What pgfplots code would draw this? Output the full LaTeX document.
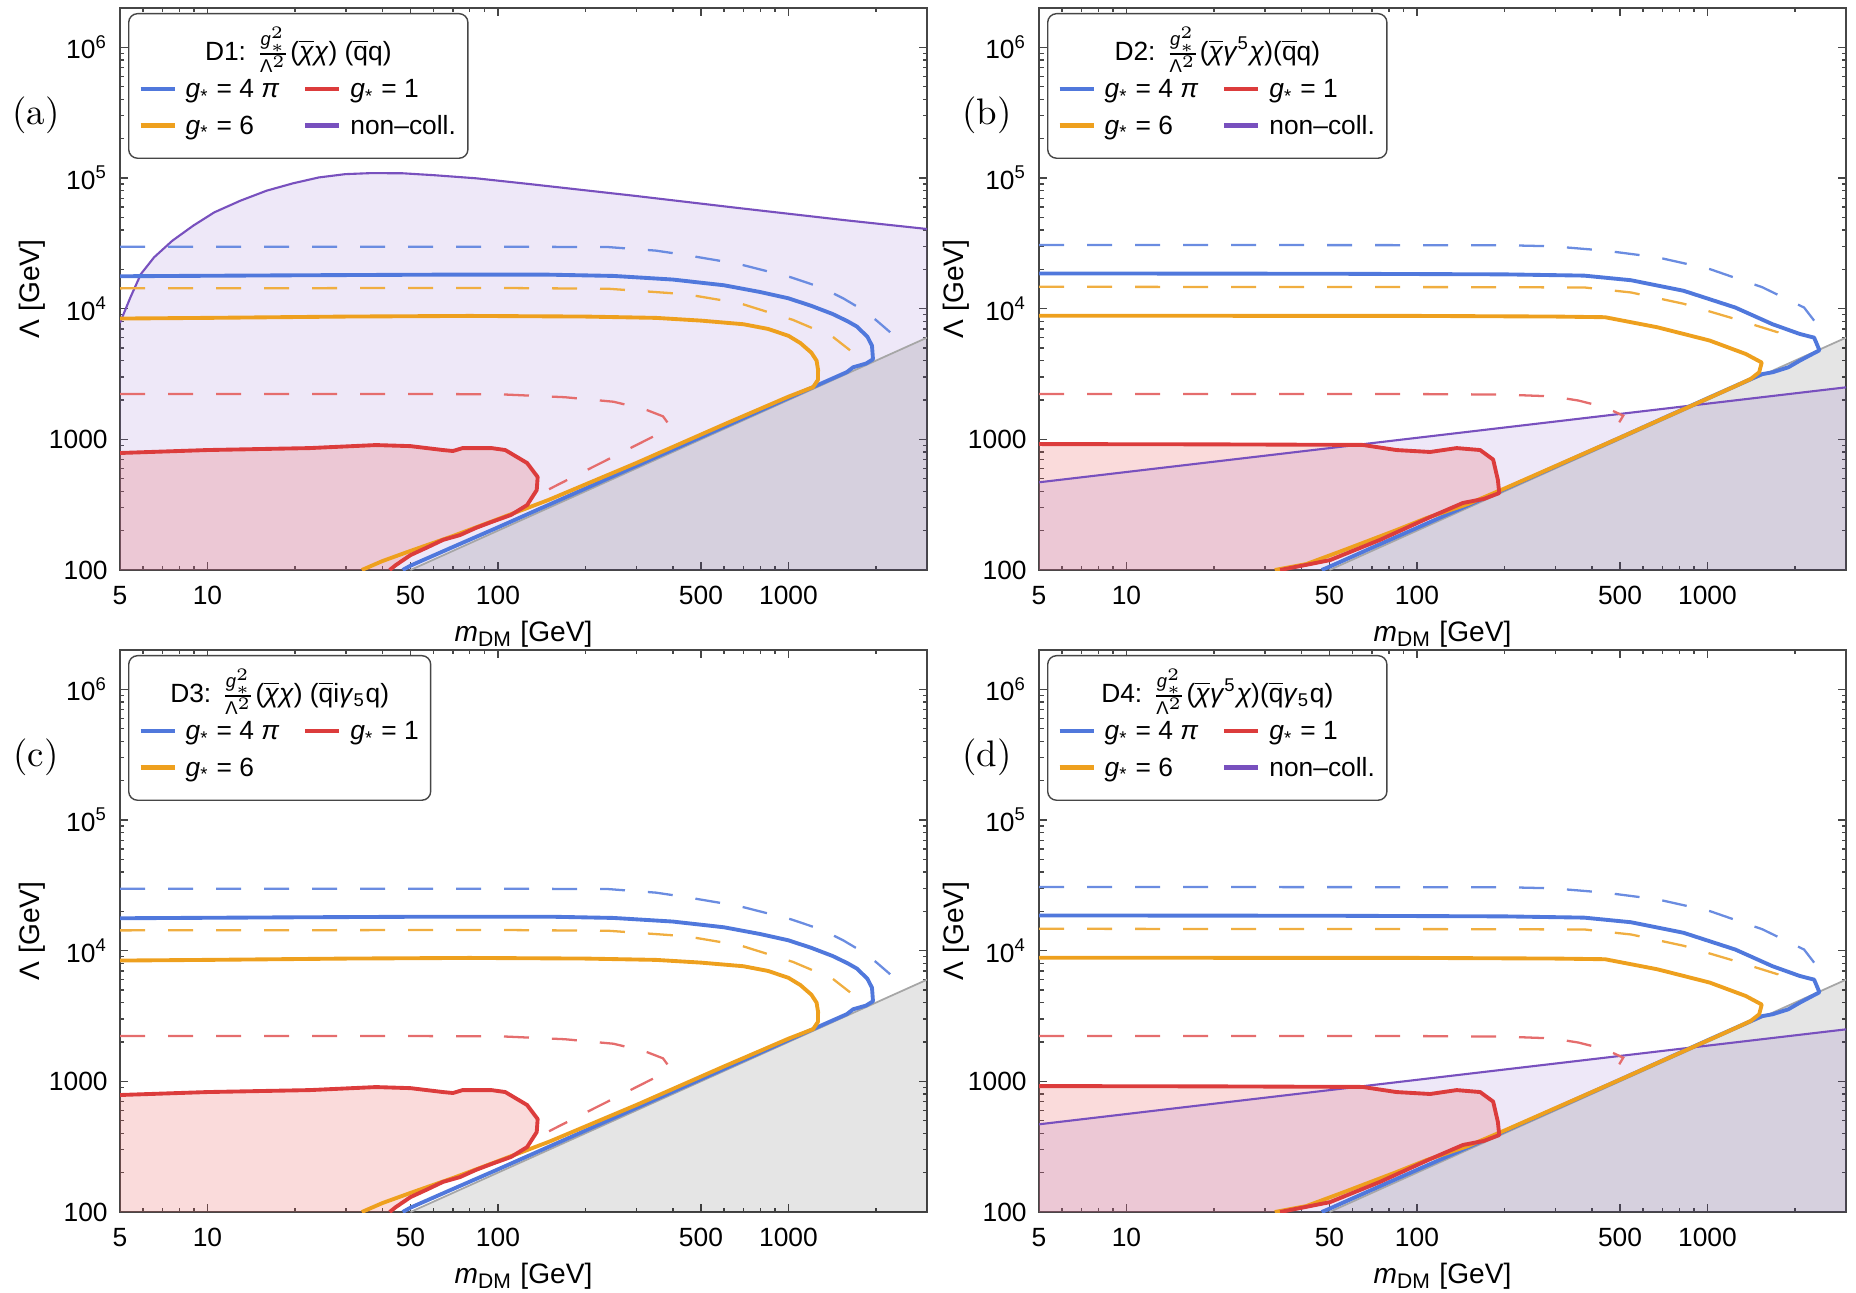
\documentclass[border=0pt]{standalone}
\usepackage{fontspec}
\usepackage{amsmath}
\usepackage{pgfplots}
\usepackage{pgfplotstable}
\pgfplotsset{compat=1.18}
\newfontfamily\lib{Liberation Sans}

\definecolor{blueC}{RGB}{80,120,220}
\definecolor{orangeC}{RGB}{238,160,30}
\definecolor{redC}{RGB}{220,60,60}
\definecolor{purpleC}{RGB}{120,80,190}
\definecolor{purpleF}{RGB}{150,110,210}
\definecolor{redF}{RGB}{230,90,90}

\newcommand{\gs}{\textit{g}\textsubscript{*}}
\newcommand{\frc}{$\frac{\text{\textit{g}}_{*}^{2}}{\text{Λ}^{2}}$}
\newcommand{\chib}{$\overline{\text{\textit{χ}}}$}
\newcommand{\qb}{$\overline{\text{q}}$}
\newcommand{\samp}[1]{\textcolor{#1}{\rule[0.25em]{3.4mm}{0.45mm}}}

% ---------------- data ----------------
\pgfplotstableread{
x y
3000 100
50 100
3000 6000
}\greyT

\pgfplotstableread{
x y
3000 100
5 100
5 7800
5.43 12200
5.9 18400
6.55 24700
7.57 33100
8.94 43200
10.56 54600
13.0 67100
16.0 80000
19.7 91000
24.2 101000
29.8 107000
36.7 109000
47.1 108600
60.4 105000
84.3 99400
127.6 90000
293 73200
673 58900
1543 47700
3000 40700
}\purpA

\pgfplotstableread{
x y
3000 100
5 100
5 469
3000 2500
}\purpB

\pgfplotstableread{
x y
5 17700
20 18000
60 18200
150 18200
250 17800
400 16700
600 15100
800 13400
1000 12000
1200 10500
1420 9100
1600 8000
1720 7300
1870 6100
1940 5200
1955 4100
1850 3800
1670 3560
1590 3270
1000 2070
500 1040
200 420
100 212
70 150
50 108
47 100
}\blueA

\pgfplotstableread{
x y
5 8400
10 8500
30 8700
80 8800
200 8700
350 8500
500 8100
700 7600
850 7000
1000 6200
1100 5450
1200 4600
1250 4000
1265 3400
1264 2850
1216 2510
1000 2120
600 1300
300 660
150 345
100 245
70 182
50 140
40 117
34 100
}\orangeA

\pgfplotstableread{
x y
5 100
5 786
10 828
22.5 857
38 904
50 887
64.7 828
70 814
75.6 857
95 857
106 828
126 659
137 515
136 409
126 314
111 264
95 233
84 210
74 185
64.7 170
57.5 150
50 130
44.5 109
42.4 100
}\redA

\pgfplotstableread{
x y
5 2220
50 2220
100 2215
170 2100
250 1940
320 1700
370 1500
385 1330
380 1180
160 447
150 415
}\redDA

\pgfplotstableread{
x y
5 29800
100 29800
240 29600
350 27800
444 25700
673 22000
1018 17400
1300 14500
1543 12000
1800 9800
2000 8200
2240 6600
}\blueDA

\pgfplotstableread{
x y
5 14300
100 14400
240 14200
444 12900
680 11000
1037 8200
1420 6100
1630 4800
}\orangeDA

\pgfplotstableread{
x y
5 18600
50 18500
200 18300
376 17900
546 16500
828 13700
1247 10200
1676 7600
2080 6400
2330 6000
2430 4800
2242 4370
2080 4000
1900 3560
1676 3260
1538 3150
1000 2060
500 1030
200 415
100 210
70 148
50 106
47 100
}\blueB

\pgfplotstableread{
x y
5 8830
100 8800
300 8700
444 8600
673 7200
1018 5700
1355 4500
1538 3870
1507 3260
1410 2900
1250 2560
1000 2050
500 1030
200 420
150 320
108 250
84 200
55.6 141
41.6 111
32.4 100
}\orangeB

\pgfplotstableread{
x y
5 100
5 920
20 915
65 906
85 828
111 800
137 857
165 828
183 700
190 488
192 388
170 350
144 326
111 254
74.6 170
50.2 119
33.8 100
}\redB

\pgfplotstableread{
x y
5 2220
100 2220
200 2200
293 2130
360 1980
444 1760
513 1517
497 1350
}\redDB

\pgfplotstableread{
x y
5 30700
200 30600
293 30000
444 27800
673 24700
1018 20100
1543 14600
2151 10200
2330 8100
}\blueDB

\pgfplotstableread{
x y
5 14700
200 14600
380 14500
546 13300
828 10900
1247 8330
1748 6590
1830 5600
}\orangeDB

\tikzset{
 fillP/.style={draw=none, fill=purpleF, fill opacity=0.16},
 fillG/.style={draw=none, fill=black, fill opacity=0.10},
 fillR/.style={draw=none, fill=redF, fill opacity=0.22},
 lineS/.style={line width=1.1pt, line join=round},
 dashS/.style={line width=0.65pt, dash pattern=on 2.5mm off 2.3mm},
 legbox/.style={draw=gray!55!black, rounded corners=2.5pt, fill=white, anchor=north west,
   inner xsep=1.2mm, inner ysep=1.3mm, font=\lib\fontsize{7.5}{9}\selectfont},
 plab/.style={font=\fontsize{10.5}{12}\selectfont, anchor=center},
}

\begin{document}
\begin{tikzpicture}
\useasboundingbox (0,0) rectangle (185.6mm,129.2mm);

% ================= (a) =================
\begin{axis}[name=A, at={(12mm,72.2mm)}, anchor=south west,
  xmode=log, ymode=log, scale only axis, width=80.7mm, height=56.2mm,
  xmin=5, xmax=3000, ymin=100, ymax=2e6,
  xtick={5,10,50,100,500,1000}, xticklabels={5,10,50,100,500,1000},
  minor xtick={6,7,8,9,20,30,40,60,70,80,90,200,300,400,600,700,800,900,2000},
  ytick={100,1000,10000,100000,1000000},
  yticklabels={100,1000,{10\textsuperscript{4}},{10\textsuperscript{5}},{10\textsuperscript{6}}},
  minor ytick={200,300,400,500,600,700,800,900,2000,3000,4000,5000,6000,7000,8000,9000,2e4,3e4,4e4,5e4,6e4,7e4,8e4,9e4,2e5,3e5,4e5,5e5,6e5,7e5,8e5,9e5,2e6},
  tick align=inside, major tick length=0.8mm, minor tick length=0.45mm,
  axis line style={gray!55!black, line width=0.5pt},
  tick style={gray!55!black, line width=0.4pt},
  tick label style={font=\lib\fontsize{7.5}{9}\selectfont},
  xticklabel style={yshift=-0.4mm},
  xlabel={\textit{m}\textsubscript{DM} [GeV]},
  ylabel={Λ [GeV]},
  label style={font=\lib\fontsize{8}{9.6}\selectfont},
  xlabel style={at={(rel axis cs:0.5,-0.127)}, anchor=base},
  ylabel style={at={(rel axis cs:-0.109,0.5)}, anchor=center}]
\addplot[fillP, forget plot] table {\purpA};
\addplot[fillG, forget plot] table {\greyT};
\addplot[fillR, forget plot] table {\redA};
\addplot[gray!70, line width=0.5pt, forget plot, skip coords between index={0}{1}] table {\greyT};
\addplot[purpleC, line width=0.6pt, forget plot, skip coords between index={0}{2}] table {\purpA};
\addplot[dashS, blueC!85, forget plot] table {\blueDA};
\addplot[dashS, orangeC!85, forget plot] table {\orangeDA};
\addplot[dashS, redC!75, forget plot] table {\redDA};
\addplot[lineS, blueC, forget plot] table {\blueA};
\addplot[lineS, orangeC, forget plot] table {\orangeA};
\addplot[lineS, redC, forget plot, skip coords between index={0}{1}] table {\redA};
\end{axis}
\node[legbox] at ([xshift=0.8mm,yshift=-0.5mm]A.north west) {\renewcommand{\arraystretch}{1.15}\begin{tabular}{@{}l@{\hspace{1.1mm}}l@{\hspace{2.6mm}}l@{\hspace{1.1mm}}l@{}}
\multicolumn{4}{c}{D1: \frc(\chib\textit{χ}) (\qb q)}\\
\samp{blueC} & \gs{} = 4 \textit{π} & \samp{redC} & \gs{} = 1\\
\samp{orangeC} & \gs{} = 6 & \samp{purpleC} & non–coll.
\end{tabular}};
\node[plab] at ([xshift=-8.4mm,yshift=45.5mm]A.south west) {(a)};

% ================= (b) =================
\begin{axis}[name=B, at={(103.9mm,72.2mm)}, anchor=south west,
  xmode=log, ymode=log, scale only axis, width=80.7mm, height=56.2mm,
  xmin=5, xmax=3000, ymin=100, ymax=2e6,
  xtick={5,10,50,100,500,1000}, xticklabels={5,10,50,100,500,1000},
  minor xtick={6,7,8,9,20,30,40,60,70,80,90,200,300,400,600,700,800,900,2000},
  ytick={100,1000,10000,100000,1000000},
  yticklabels={100,1000,{10\textsuperscript{4}},{10\textsuperscript{5}},{10\textsuperscript{6}}},
  minor ytick={200,300,400,500,600,700,800,900,2000,3000,4000,5000,6000,7000,8000,9000,2e4,3e4,4e4,5e4,6e4,7e4,8e4,9e4,2e5,3e5,4e5,5e5,6e5,7e5,8e5,9e5,2e6},
  tick align=inside, major tick length=0.8mm, minor tick length=0.45mm,
  axis line style={gray!55!black, line width=0.5pt},
  tick style={gray!55!black, line width=0.4pt},
  tick label style={font=\lib\fontsize{7.5}{9}\selectfont},
  xticklabel style={yshift=-0.4mm},
  xlabel={\textit{m}\textsubscript{DM} [GeV]},
  ylabel={Λ [GeV]},
  label style={font=\lib\fontsize{8}{9.6}\selectfont},
  xlabel style={at={(rel axis cs:0.5,-0.127)}, anchor=base},
  ylabel style={at={(rel axis cs:-0.103,0.5)}, anchor=center}]
\addplot[fillP, forget plot] table {\purpB};
\addplot[fillG, forget plot] table {\greyT};
\addplot[fillR, forget plot] table {\redB};
\addplot[gray!70, line width=0.5pt, forget plot, skip coords between index={0}{1}] table {\greyT};
\addplot[purpleC, line width=0.6pt, forget plot, skip coords between index={0}{2}] table {\purpB};
\addplot[dashS, blueC!85, forget plot] table {\blueDB};
\addplot[dashS, orangeC!85, forget plot] table {\orangeDB};
\addplot[dashS, redC!75, forget plot] table {\redDB};
\addplot[lineS, blueC, forget plot] table {\blueB};
\addplot[lineS, orangeC, forget plot] table {\orangeB};
\addplot[lineS, redC, forget plot, skip coords between index={0}{1}] table {\redB};
\end{axis}
\node[legbox] at ([xshift=0.8mm,yshift=-0.5mm]B.north west) {\renewcommand{\arraystretch}{1.15}\begin{tabular}{@{}l@{\hspace{1.1mm}}l@{\hspace{2.6mm}}l@{\hspace{1.1mm}}l@{}}
\multicolumn{4}{c}{D2: \frc(\chib\textit{γ}\textsuperscript{5}\textit{χ})(\qb q)}\\
\samp{blueC} & \gs{} = 4 \textit{π} & \samp{redC} & \gs{} = 1\\
\samp{orangeC} & \gs{} = 6 & \samp{purpleC} & non–coll.
\end{tabular}};
\node[plab] at ([xshift=-5.2mm,yshift=45.5mm]B.south west) {(b)};

% ================= (c) =================
\begin{axis}[name=C, at={(12mm,8mm)}, anchor=south west,
  xmode=log, ymode=log, scale only axis, width=80.7mm, height=56.2mm,
  xmin=5, xmax=3000, ymin=100, ymax=2e6,
  xtick={5,10,50,100,500,1000}, xticklabels={5,10,50,100,500,1000},
  minor xtick={6,7,8,9,20,30,40,60,70,80,90,200,300,400,600,700,800,900,2000},
  ytick={100,1000,10000,100000,1000000},
  yticklabels={100,1000,{10\textsuperscript{4}},{10\textsuperscript{5}},{10\textsuperscript{6}}},
  minor ytick={200,300,400,500,600,700,800,900,2000,3000,4000,5000,6000,7000,8000,9000,2e4,3e4,4e4,5e4,6e4,7e4,8e4,9e4,2e5,3e5,4e5,5e5,6e5,7e5,8e5,9e5,2e6},
  tick align=inside, major tick length=0.8mm, minor tick length=0.45mm,
  axis line style={gray!55!black, line width=0.5pt},
  tick style={gray!55!black, line width=0.4pt},
  tick label style={font=\lib\fontsize{7.5}{9}\selectfont},
  xticklabel style={yshift=-0.4mm},
  xlabel={\textit{m}\textsubscript{DM} [GeV]},
  ylabel={Λ [GeV]},
  label style={font=\lib\fontsize{8}{9.6}\selectfont},
  xlabel style={at={(rel axis cs:0.5,-0.127)}, anchor=base},
  ylabel style={at={(rel axis cs:-0.109,0.5)}, anchor=center}]
\addplot[fillG, forget plot] table {\greyT};
\addplot[fillR, forget plot] table {\redA};
\addplot[gray!70, line width=0.5pt, forget plot, skip coords between index={0}{1}] table {\greyT};
\addplot[dashS, blueC!85, forget plot] table {\blueDA};
\addplot[dashS, orangeC!85, forget plot] table {\orangeDA};
\addplot[dashS, redC!75, forget plot] table {\redDA};
\addplot[lineS, blueC, forget plot] table {\blueA};
\addplot[lineS, orangeC, forget plot] table {\orangeA};
\addplot[lineS, redC, forget plot, skip coords between index={0}{1}] table {\redA};
\end{axis}
\node[legbox] at ([xshift=0.8mm,yshift=-0.5mm]C.north west) {\renewcommand{\arraystretch}{1.15}\begin{tabular}{@{}l@{\hspace{1.1mm}}l@{\hspace{2.6mm}}l@{\hspace{1.1mm}}l@{}}
\multicolumn{4}{c}{D3: \frc(\chib\textit{χ}) (\qb i\textit{γ}\textsubscript{5}q)}\\
\samp{blueC} & \gs{} = 4 \textit{π} & \samp{redC} & \gs{} = 1\\
\samp{orangeC} & \gs{} = 6 & & 
\end{tabular}};
\node[plab] at ([xshift=-8.4mm,yshift=45.5mm]C.south west) {(c)};

% ================= (d) =================
\begin{axis}[name=D, at={(103.9mm,8mm)}, anchor=south west,
  xmode=log, ymode=log, scale only axis, width=80.7mm, height=56.2mm,
  xmin=5, xmax=3000, ymin=100, ymax=2e6,
  xtick={5,10,50,100,500,1000}, xticklabels={5,10,50,100,500,1000},
  minor xtick={6,7,8,9,20,30,40,60,70,80,90,200,300,400,600,700,800,900,2000},
  ytick={100,1000,10000,100000,1000000},
  yticklabels={100,1000,{10\textsuperscript{4}},{10\textsuperscript{5}},{10\textsuperscript{6}}},
  minor ytick={200,300,400,500,600,700,800,900,2000,3000,4000,5000,6000,7000,8000,9000,2e4,3e4,4e4,5e4,6e4,7e4,8e4,9e4,2e5,3e5,4e5,5e5,6e5,7e5,8e5,9e5,2e6},
  tick align=inside, major tick length=0.8mm, minor tick length=0.45mm,
  axis line style={gray!55!black, line width=0.5pt},
  tick style={gray!55!black, line width=0.4pt},
  tick label style={font=\lib\fontsize{7.5}{9}\selectfont},
  xticklabel style={yshift=-0.4mm},
  xlabel={\textit{m}\textsubscript{DM} [GeV]},
  ylabel={Λ [GeV]},
  label style={font=\lib\fontsize{8}{9.6}\selectfont},
  xlabel style={at={(rel axis cs:0.5,-0.127)}, anchor=base},
  ylabel style={at={(rel axis cs:-0.103,0.5)}, anchor=center}]
\addplot[fillP, forget plot] table {\purpB};
\addplot[fillG, forget plot] table {\greyT};
\addplot[fillR, forget plot] table {\redB};
\addplot[gray!70, line width=0.5pt, forget plot, skip coords between index={0}{1}] table {\greyT};
\addplot[purpleC, line width=0.6pt, forget plot, skip coords between index={0}{2}] table {\purpB};
\addplot[dashS, blueC!85, forget plot] table {\blueDB};
\addplot[dashS, orangeC!85, forget plot] table {\orangeDB};
\addplot[dashS, redC!75, forget plot] table {\redDB};
\addplot[lineS, blueC, forget plot] table {\blueB};
\addplot[lineS, orangeC, forget plot] table {\orangeB};
\addplot[lineS, redC, forget plot, skip coords between index={0}{1}] table {\redB};
\end{axis}
\node[legbox] at ([xshift=0.8mm,yshift=-0.5mm]D.north west) {\renewcommand{\arraystretch}{1.15}\begin{tabular}{@{}l@{\hspace{1.1mm}}l@{\hspace{2.6mm}}l@{\hspace{1.1mm}}l@{}}
\multicolumn{4}{c}{D4: \frc(\chib\textit{γ}\textsuperscript{5}\textit{χ})(\qb\textit{γ}\textsubscript{5}q)}\\
\samp{blueC} & \gs{} = 4 \textit{π} & \samp{redC} & \gs{} = 1\\
\samp{orangeC} & \gs{} = 6 & \samp{purpleC} & non–coll.
\end{tabular}};
\node[plab] at ([xshift=-5.2mm,yshift=45.5mm]D.south west) {(d)};
\end{tikzpicture}
\end{document}
